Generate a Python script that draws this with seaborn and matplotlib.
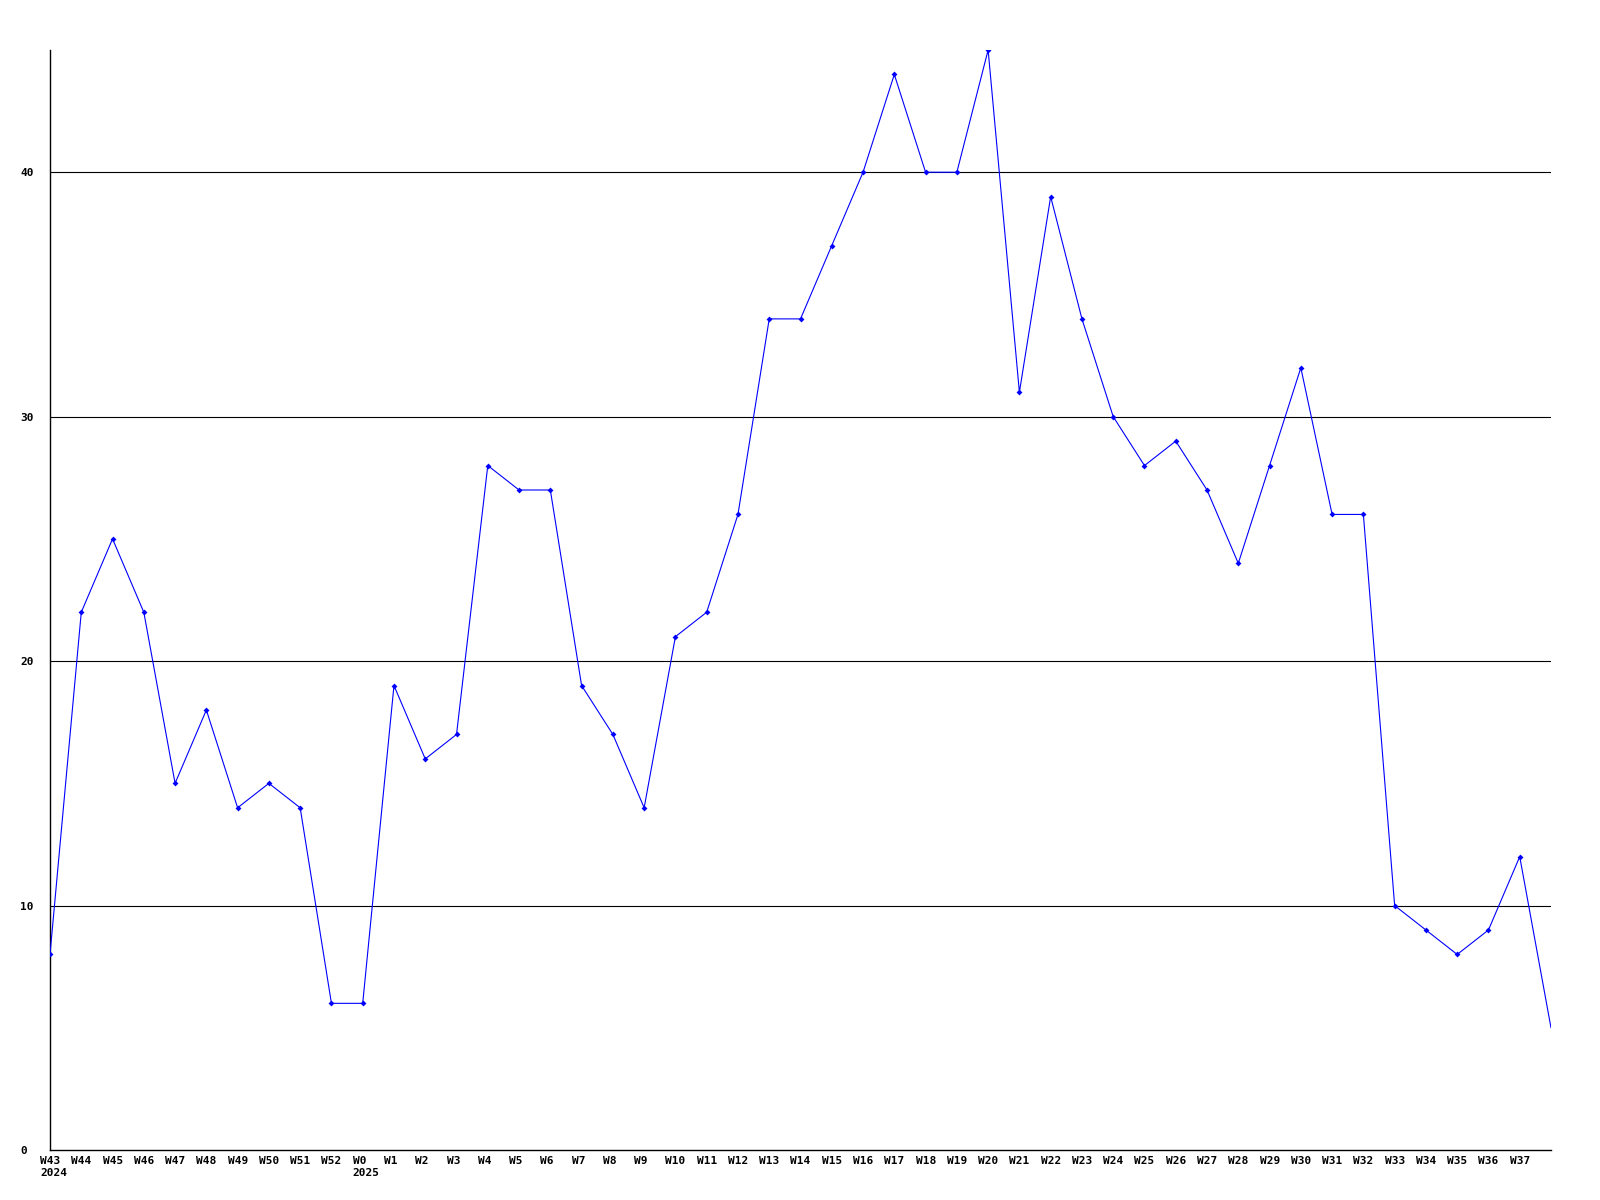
import matplotlib
matplotlib.use('Agg')
import matplotlib.pyplot as plt
import matplotlib.transforms as mtransforms
import seaborn as sns
import pandas as pd

# weekly counts, W43 2024 .. W38 2025 (last point has no label/marker)
weeks = ['W43', 'W44', 'W45', 'W46', 'W47', 'W48', 'W49', 'W50', 'W51', 'W52',
         'W0', 'W1', 'W2', 'W3', 'W4', 'W5', 'W6', 'W7', 'W8', 'W9',
         'W10', 'W11', 'W12', 'W13', 'W14', 'W15', 'W16', 'W17', 'W18', 'W19',
         'W20', 'W21', 'W22', 'W23', 'W24', 'W25', 'W26', 'W27', 'W28', 'W29',
         'W30', 'W31', 'W32', 'W33', 'W34', 'W35', 'W36', 'W37', '']
years = {'W43': '2024', 'W0': '2025'}
counts = [8, 22, 25, 22, 15, 18, 14, 15, 14, 6,
          6, 19, 16, 17, 28, 27, 27, 19, 17, 14,
          21, 22, 26, 34, 34, 37, 40, 44, 40, 40,
          45, 31, 39, 34, 30, 28, 29, 27, 24, 28,
          32, 26, 26, 10, 9, 8, 9, 12, 5]
yticks = [0, 10, 20, 30, 40]

df = pd.DataFrame({'idx': range(len(counts)), 'count': counts})

sns.set_style('white')
plt.rcParams['font.family'] = ['DejaVu Sans Mono']
plt.rcParams['font.weight'] = 'bold'
plt.rcParams['text.color'] = 'black'
plt.rcParams['xtick.color'] = 'black'
plt.rcParams['ytick.color'] = 'black'

fig = plt.figure(figsize=(16, 12), dpi=100)
ax = fig.add_axes([50 / 1600, 50 / 1200, 1501 / 1600, 1100 / 1200])

for v in yticks[1:]:
    ax.axhline(v, color='black', linewidth=0.8, zorder=1)

sns.lineplot(data=df, x='idx', y='count', ax=ax, color='#0000ff', linewidth=0.8,
             marker='D', markersize=3, markeredgewidth=0,
             markevery=list(range(len(counts) - 1)), zorder=3)

ax.set_xlim(0, len(counts) - 1)
ax.set_ylim(0, max(counts))
ax.set_xlabel('')
ax.set_ylabel('')

labels = [w + ('\n' + years[w] if w in years else '') for w in weeks]
ax.set_xticks(range(len(weeks)))
ax.set_xticklabels(labels, fontsize=8, fontweight='bold', ha='left',
                   va='top', linespacing=1.35)
ax.set_yticks(yticks)
ax.set_yticklabels([str(v) for v in yticks], fontsize=8, fontweight='bold', ha='left')
ax.tick_params(axis='both', length=0)
ax.tick_params(axis='x', pad=4)
ax.tick_params(axis='y', pad=0)

xoff = mtransforms.ScaledTranslation(-10 / 100, 0, fig.dpi_scale_trans)
for lbl in ax.get_xticklabels():
    lbl.set_transform(lbl.get_transform() + xoff)
yoff = mtransforms.ScaledTranslation(-30 / 100, 0, fig.dpi_scale_trans)
for lbl in ax.get_yticklabels():
    lbl.set_transform(lbl.get_transform() + yoff)

for s in ['top', 'right']:
    ax.spines[s].set_visible(False)
for s in ['left', 'bottom']:
    ax.spines[s].set_color('black')
    ax.spines[s].set_linewidth(1)

fig.savefig('out.png', dpi=100, facecolor='white')
